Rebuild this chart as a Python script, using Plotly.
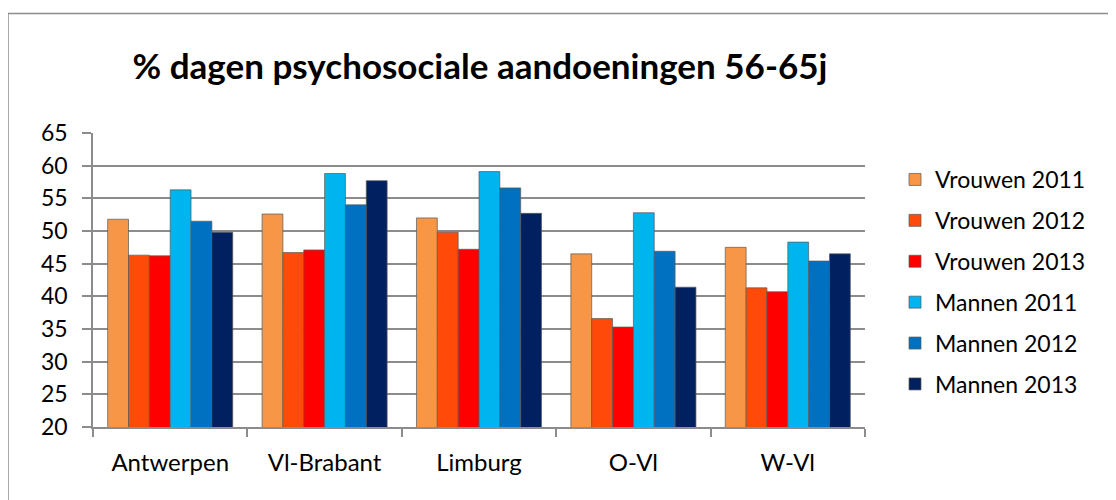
import plotly.graph_objects as go

provincies = ["Antwerpen", "Vl-Brabant", "Limburg", "O-Vl", "W-Vl"]

vrouwen_2011 = [51.8, 52.6, 52.0, 46.5, 47.5]
vrouwen_2012 = [46.3, 46.7, 49.8, 36.6, 41.3]
vrouwen_2013 = [46.2, 47.1, 47.2, 35.3, 40.7]
mannen_2011 = [56.3, 58.8, 59.1, 52.8, 48.3]
mannen_2012 = [51.5, 54.0, 56.6, 46.9, 45.4]
mannen_2013 = [49.8, 57.7, 52.7, 41.4, 46.5]

reeksen = [
    ("Vrouwen 2011", vrouwen_2011, "#F79646"),
    ("Vrouwen 2012", vrouwen_2012, "#FF4A0A"),
    ("Vrouwen 2013", vrouwen_2013, "#FF0000"),
    ("Mannen 2011", mannen_2011, "#00B4F0"),
    ("Mannen 2012", mannen_2012, "#0070C0"),
    ("Mannen 2013", mannen_2013, "#002060"),
]

font = "Lato, 'Open Sans', sans-serif"

fig = go.Figure()
for naam, waarden, kleur in reeksen:
    fig.add_trace(go.Bar(
        x=provincies,
        y=waarden,
        name=naam,
        legendgroup=naam,
        marker=dict(color=kleur, line=dict(color="rgba(90,90,90,0.7)", width=1)),
    ))

# page has an 8px body margin, so the figure is drawn 8px in from the top-left
OFF = 8
W, H = 1116 - OFF, 500 - OFF
# plot area in page pixels: x 93..865, y 133..427
L, R, T, B = 93 - OFF, 865 - OFF, 133 - OFF, 427 - OFF
pw, ph = R - L, B - T

def px_x(x):
    return (x - OFF - L) / pw

def px_y(y):
    return (B - (y - OFF)) / ph

fig.update_layout(
    width=W,
    height=H,
    margin=dict(l=L, r=W - R, t=T, b=H - B, autoexpand=False),
    paper_bgcolor="white",
    plot_bgcolor="white",
    barmode="group",
    bargap=0.19,
    bargroupgap=0,
    font=dict(family=font, size=24, color="#000000"),
    title=dict(
        text="<b>% dagen psychosociale aandoeningen 56-65j</b>",
        x=px_x(480), xanchor="center", xref="paper",
        y=1 - (67 - OFF) / H, yanchor="middle", yref="container",
        font=dict(family=font, size=35, color="#000000"),
    ),
    legend=dict(
        x=px_x(895), xanchor="left",
        y=px_y(158), yanchor="top",
        font=dict(family=font, size=23),
        tracegroupgap=8,
        bgcolor="rgba(0,0,0,0)",
    ),
    showlegend=True,
)

fig.update_xaxes(
    showline=True, linecolor="#8c8c8c", linewidth=1.5,
    ticks="outside", tickson="boundaries", ticklen=8, tickcolor="#8c8c8c", tickwidth=1.5,
    showgrid=False,
    ticklabelstandoff=13,
    tickfont=dict(family=font, size=24),
)
fig.update_yaxes(
    range=[20, 65], dtick=5, tick0=20,
    showline=True, linecolor="#8c8c8c", linewidth=1.5,
    ticks="outside", ticklen=9, tickcolor="#8c8c8c", tickwidth=1.5,
    showgrid=True, gridcolor="#8c8c8c", gridwidth=1.6,
    zeroline=False,
    ticklabelstandoff=10,
    tickfont=dict(family=font, size=23),
)

# chart frame (left and top edges)
fig.add_shape(type="line", xref="paper", yref="paper",
              x0=px_x(8), x1=px_x(8), y0=px_y(13.5), y1=px_y(1200),
              line=dict(color="#8c8c8c", width=1.5))
fig.add_shape(type="line", xref="paper", yref="paper",
              x0=px_x(8), x1=px_x(1200), y0=px_y(13.5), y1=px_y(13.5),
              line=dict(color="#8c8c8c", width=1.5))

fig.write_html("out.html")
